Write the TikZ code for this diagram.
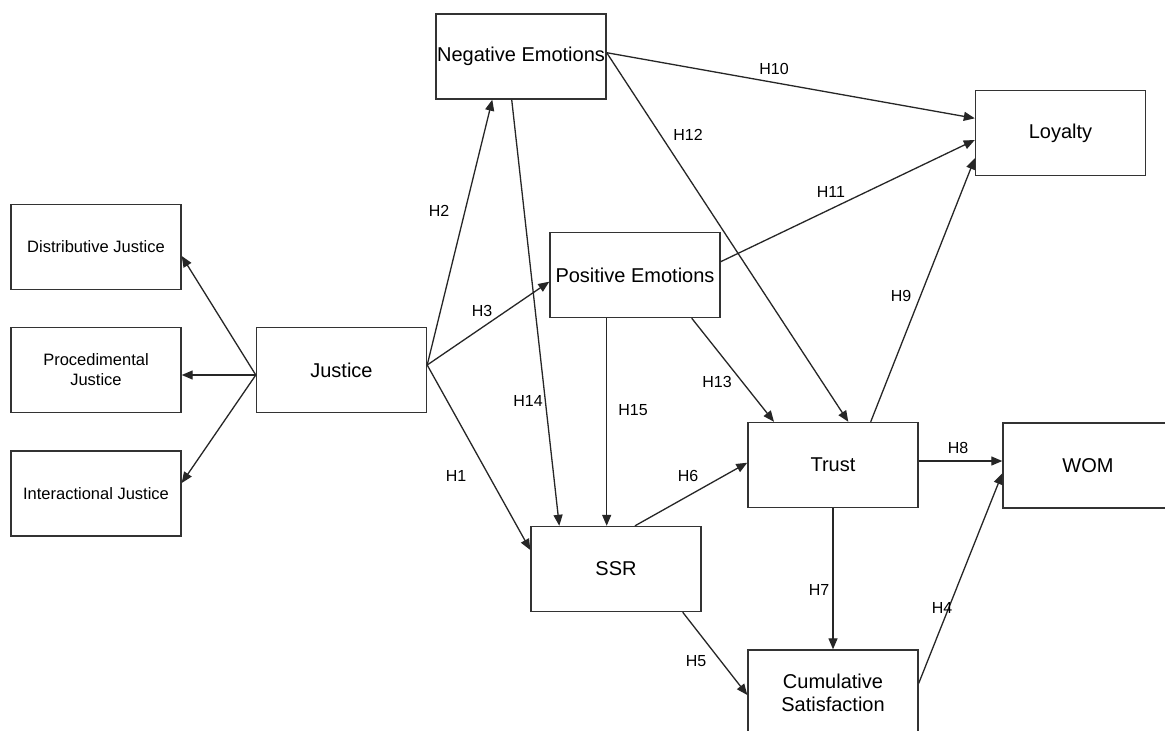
\documentclass[tikz,border=0pt]{standalone}
\usepackage{fontspec}
\setmainfont{Liberation Sans}
\usetikzlibrary{arrows.meta}
\tikzset{
 box/.style={draw=black!80, line width=1.4pt, minimum width=170pt, minimum height=85pt, inner sep=0pt, font=\fontsize{20}{23}\selectfont, align=center},
 sbox/.style={box, font=\fontsize{16.5}{20}\selectfont},
 conn/.style={line width=1.3pt, draw=black!85, -{Triangle[length=11pt,width=9pt]}},
 hl/.style={font=\fontsize{16}{18}\selectfont, inner sep=0pt},
}
\begin{document}
\begin{tikzpicture}[x=1pt,y=-1pt]
\useasboundingbox[fill=white] (0,0) rectangle (1165,731);
% boxes
\node[box] (neg) at (521,56.5) {Negative Emotions};
\node[box] (loy) at (1060.5,133) {Loyalty};
\node[sbox] (dist) at (96,247) {Distributive Justice};
\node[box] (pos) at (635,275) {Positive Emotions};
\node[sbox] (proc) at (96,370) {Procedimental\\Justice};
\node[box] (just) at (341.5,370) {Justice};
\node[sbox] (inter) at (96,493.5) {Interactional Justice};
\node[box] (trust) at (833,465) {Trust};
\node[box] (wom) at (1088,465.5) {WOM};
\node[box] (ssr) at (616,569) {SSR};
\node[box] (cum) at (833,692.5) {Cumulative\\Satisfaction};
% justice dimensions
\draw[conn] ([yshift=-5pt]just.west) -- ([yshift=-9pt]dist.east);
\draw[conn] ([yshift=-5pt]just.west) -- ([yshift=-5pt]proc.east);
\draw[conn] ([yshift=-5pt]just.west) -- ([yshift=10.5pt]inter.east);
% hypotheses
\draw[conn] ([yshift=5pt]just.east) -- ([xshift=-28.7pt]neg.south);
\draw[conn] ([yshift=5pt]just.east) -- ([yshift=-6.7pt]pos.west);
\draw[conn] ([yshift=5pt]just.east) -- ([yshift=19pt]ssr.west);
\draw[conn] ([xshift=-9.3pt]neg.south) -- ([xshift=-56.7pt]ssr.north);
\draw[conn] ([yshift=3.8pt]neg.east) -- ([yshift=14.7pt]loy.west);
\draw[conn] ([yshift=3.8pt]neg.east) -- ([xshift=15.3pt]trust.north);
\draw[conn] ([yshift=13.3pt]pos.east) -- ([yshift=-7pt]loy.west);
\draw[conn] ([xshift=-28.3pt]pos.south) -- ([xshift=-9.3pt]ssr.north);
\draw[conn] ([xshift=56.7pt]pos.south) -- ([xshift=-59pt]trust.north);
\draw[conn] ([xshift=19pt]ssr.north) -- ([yshift=2.3pt]trust.west);
\draw[conn] ([xshift=66.7pt]ssr.south) -- ([yshift=-2.5pt]cum.west);
\draw[conn] ([xshift=37.7pt]trust.north) -- ([yshift=-25.3pt]loy.west);
\draw[conn] ([yshift=4pt]trust.east) -- ([yshift=4.5pt]wom.west);
\draw[conn] (trust.south) -- (cum.north);
\draw[conn] ([yshift=9.2pt]cum.east) -- ([yshift=-7.8pt]wom.west);
% labels
\node[hl] (h1) at (456,476) {H1};
\node[hl] (h2) at (439,211) {H2};
\node[hl] (h3) at (482,311) {H3};
\node[hl] (h4) at (942,608) {H4};
\node[hl] (h5) at (696,661) {H5};
\node[hl] (h6) at (688,476) {H6};
\node[hl] (h7) at (819,590) {H7};
\node[hl] (h8) at (958,448) {H8};
\node[hl] (h9) at (901,296) {H9};
\node[hl] (h10) at (774,69) {H10};
\node[hl] (h11) at (831,192) {H11};
\node[hl] (h12) at (688,135) {H12};
\node[hl] (h13) at (717,382) {H13};
\node[hl] (h14) at (528,401) {H14};
\node[hl] (h15) at (633,410) {H15};
\end{tikzpicture}
\end{document}
